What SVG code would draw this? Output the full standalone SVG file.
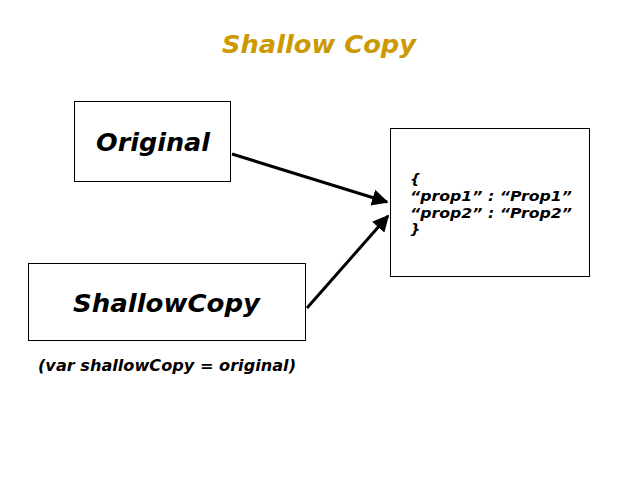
<svg xmlns="http://www.w3.org/2000/svg" width="640" height="480" viewBox="0 0 640 480">
<defs>
<style>
text{font-family:Verdana,"DejaVu Sans",sans-serif;font-weight:bold;font-style:italic;fill:#000}
.box{fill:#fff;stroke:#000;stroke-width:1}
.conn{stroke:#000;stroke-width:3;fill:none;marker-end:url(#ah)}
</style>
<marker id="ah" viewBox="0 0 10 10" refX="9" refY="5" markerWidth="5.5" markerHeight="5.5" orient="auto" markerUnits="strokeWidth">
<path d="M0,0 L10,5 L0,10 z" fill="#000"/>
</marker>
</defs>
<rect width="640" height="480" fill="#fff"/>
<text x="319" y="53" text-anchor="middle" font-size="25.5" textLength="194" lengthAdjust="spacingAndGlyphs" style="fill:#CC9900">Shallow Copy</text>
<g id="original">
<rect class="box" x="74.5" y="101.5" width="156" height="80"/>
<text x="153" y="151" text-anchor="middle" font-size="25" textLength="114" lengthAdjust="spacingAndGlyphs">Original</text>
</g>
<g id="shallowcopy">
<rect class="box" x="28.5" y="263.5" width="277" height="77"/>
<text x="166.5" y="312" text-anchor="middle" font-size="25.5" textLength="187" lengthAdjust="spacingAndGlyphs">ShallowCopy</text>
<text x="167" y="371" text-anchor="middle" font-size="16" textLength="258" lengthAdjust="spacingAndGlyphs">(var shallowCopy = original)</text>
</g>
<g id="object">
<rect class="box" x="390.5" y="128.5" width="199" height="148"/>
<text font-size="14.5">
<tspan x="410" y="184">{</tspan>
<tspan x="410" y="201" textLength="162" lengthAdjust="spacingAndGlyphs">“prop1” : “Prop1”</tspan>
<tspan x="410" y="218" textLength="162" lengthAdjust="spacingAndGlyphs">“prop2” : “Prop2”</tspan>
<tspan x="410" y="234">}</tspan>
</text>
</g>
<g id="connectors">
<line class="conn" x1="232" y1="154" x2="387" y2="202"/>
<line class="conn" x1="307" y1="308" x2="388" y2="216"/>
</g>
</svg>
